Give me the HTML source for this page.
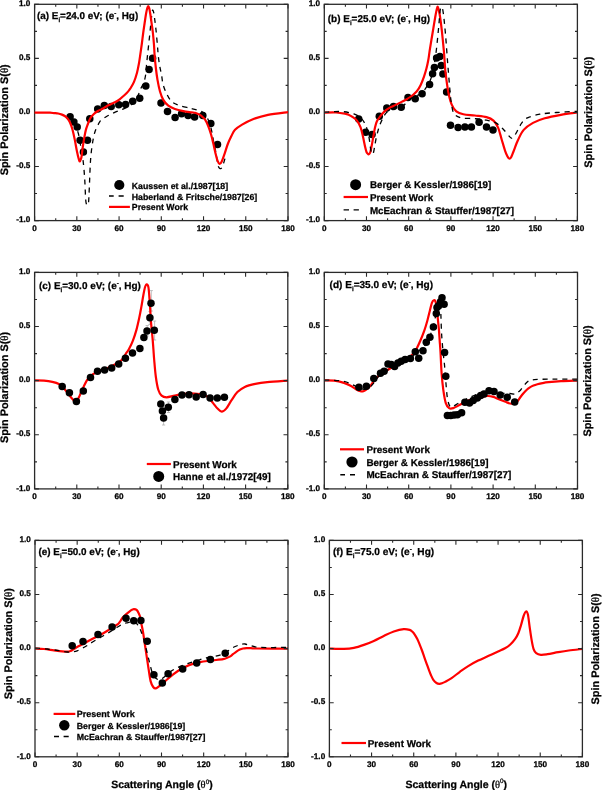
<!DOCTYPE html>
<html><head><meta charset="utf-8"><style>
html,body{margin:0;padding:0;background:#fff;}
body{width:602px;height:790px;overflow:hidden;}
svg{display:block;font-family:"Liberation Sans", sans-serif;will-change:transform;filter:blur(0.4px);}
text{stroke:#000;stroke-width:0.25px;text-rendering:geometricPrecision;}
</style></head><body>
<svg width="602" height="790" viewBox="0 0 602 790">
<rect width="602" height="790" fill="#fff"/>
<rect x="34.60" y="4.30" width="253.40" height="216.30" fill="none" stroke="#2a2a2a" stroke-width="1.30"/>
<path d="M34.60,220.60V216.30 M34.60,4.30V8.60 M55.72,220.60V218.20 M55.72,4.30V6.70 M76.83,220.60V216.30 M76.83,4.30V8.60 M97.95,220.60V218.20 M97.95,4.30V6.70 M119.07,220.60V216.30 M119.07,4.30V8.60 M140.18,220.60V218.20 M140.18,4.30V6.70 M161.30,220.60V216.30 M161.30,4.30V8.60 M182.42,220.60V218.20 M182.42,4.30V6.70 M203.53,220.60V216.30 M203.53,4.30V8.60 M224.65,220.60V218.20 M224.65,4.30V6.70 M245.77,220.60V216.30 M245.77,4.30V8.60 M266.88,220.60V218.20 M266.88,4.30V6.70 M288.00,220.60V216.30 M288.00,4.30V8.60 M34.60,220.60H38.90 M288.00,220.60H283.70 M34.60,193.56H37.00 M288.00,193.56H285.60 M34.60,166.53H38.90 M288.00,166.53H283.70 M34.60,139.49H37.00 M288.00,139.49H285.60 M34.60,112.45H38.90 M288.00,112.45H283.70 M34.60,85.41H37.00 M288.00,85.41H285.60 M34.60,58.38H38.90 M288.00,58.38H283.70 M34.60,31.34H37.00 M288.00,31.34H285.60 M34.60,4.30H38.90 M288.00,4.30H283.70" stroke="#2a2a2a" stroke-width="1.1" fill="none"/>
<text x="34.60" y="231.10" font-size="8.20" text-anchor="middle" font-weight="bold">0</text>
<text x="76.83" y="231.10" font-size="8.20" text-anchor="middle" font-weight="bold">30</text>
<text x="119.07" y="231.10" font-size="8.20" text-anchor="middle" font-weight="bold">60</text>
<text x="161.30" y="231.10" font-size="8.20" text-anchor="middle" font-weight="bold">90</text>
<text x="203.53" y="231.10" font-size="8.20" text-anchor="middle" font-weight="bold">120</text>
<text x="245.77" y="231.10" font-size="8.20" text-anchor="middle" font-weight="bold">150</text>
<text x="288.00" y="231.10" font-size="8.20" text-anchor="middle" font-weight="bold">180</text>
<text x="30.40" y="6.00" font-size="8.20" text-anchor="end" font-weight="bold">1.0</text>
<text x="30.40" y="60.08" font-size="8.20" text-anchor="end" font-weight="bold">0.5</text>
<text x="30.40" y="114.15" font-size="8.20" text-anchor="end" font-weight="bold">0.0</text>
<text x="30.40" y="168.22" font-size="8.20" text-anchor="end" font-weight="bold">-0.5</text>
<text x="30.40" y="222.30" font-size="8.20" text-anchor="end" font-weight="bold">-1.0</text>
<g fill="#000"><circle cx="70.10" cy="116.70" r="3.75"/><circle cx="73.90" cy="122.10" r="3.75"/><circle cx="77.20" cy="127.00" r="3.75"/><circle cx="80.10" cy="140.20" r="3.75"/><circle cx="87.50" cy="140.20" r="3.75"/><circle cx="83.40" cy="152.10" r="3.75"/><circle cx="89.80" cy="118.80" r="3.75"/><circle cx="97.70" cy="108.90" r="3.75"/><circle cx="104.30" cy="105.60" r="3.75"/><circle cx="111.20" cy="106.50" r="3.75"/><circle cx="118.80" cy="104.80" r="3.75"/><circle cx="125.60" cy="104.40" r="3.75"/><circle cx="132.70" cy="101.20" r="3.75"/><circle cx="139.70" cy="98.20" r="3.75"/><circle cx="145.80" cy="86.00" r="3.75"/><circle cx="149.10" cy="69.40" r="3.75"/><circle cx="152.60" cy="58.20" r="3.75"/><circle cx="161.00" cy="103.00" r="3.75"/><circle cx="167.50" cy="111.60" r="3.75"/><circle cx="175.10" cy="117.60" r="3.75"/><circle cx="181.60" cy="113.80" r="3.75"/><circle cx="188.10" cy="115.50" r="3.75"/><circle cx="194.60" cy="117.00" r="3.75"/><circle cx="202.80" cy="115.50" r="3.75"/><circle cx="210.80" cy="123.50" r="3.75"/><circle cx="217.50" cy="144.50" r="3.75"/></g>
<path d="M68.00,114.50 C68.35,114.87 69.12,115.43 70.10,116.70 C71.08,117.97 72.87,120.23 73.90,122.10 C74.93,123.97 75.53,125.92 76.30,127.90 C77.07,129.88 77.80,131.15 78.50,134.00 C79.20,136.85 79.77,140.82 80.50,145.00 C81.23,149.18 82.22,153.73 82.90,159.10 C83.58,164.47 84.15,170.72 84.60,177.20 C85.05,183.68 85.32,193.60 85.60,198.00 C85.88,202.40 86.00,202.43 86.30,203.60 C86.60,204.77 87.03,205.10 87.40,205.00 C87.77,204.90 88.18,205.83 88.50,203.00 C88.82,200.17 89.00,194.48 89.30,188.00 C89.60,181.52 89.98,169.93 90.30,164.10 C90.62,158.27 90.88,156.18 91.20,153.00 C91.52,149.82 91.83,147.50 92.20,145.00 C92.57,142.50 93.00,140.00 93.40,138.00 C93.80,136.00 94.17,134.50 94.60,133.00 C95.03,131.50 95.43,130.33 96.00,129.00 C96.57,127.67 97.33,126.28 98.00,125.00 C98.67,123.72 99.17,122.33 100.00,121.30 C100.83,120.27 101.85,119.65 103.00,118.80 C104.15,117.95 105.63,116.93 106.90,116.20 C108.17,115.47 109.22,115.07 110.60,114.40 C111.98,113.73 113.65,112.88 115.20,112.20 C116.75,111.52 118.42,110.90 119.90,110.30 C121.38,109.70 122.08,109.60 124.10,108.60 C126.12,107.60 129.93,105.90 132.00,104.30 C134.07,102.70 135.30,100.95 136.50,99.00 C137.70,97.05 138.40,94.50 139.20,92.60 C140.00,90.70 140.53,89.28 141.30,87.60 C142.07,85.92 143.08,84.60 143.80,82.50 C144.52,80.40 145.10,78.42 145.60,75.00 C146.10,71.58 146.35,66.50 146.80,62.00 C147.25,57.50 147.80,52.67 148.30,48.00 C148.80,43.33 149.35,38.33 149.80,34.00 C150.25,29.67 150.63,25.50 151.00,22.00 C151.37,18.50 151.70,15.00 152.00,13.00 C152.30,11.00 152.50,10.00 152.80,10.00 C153.10,10.00 153.47,11.33 153.80,13.00 C154.13,14.67 154.43,17.17 154.80,20.00 C155.17,22.83 155.57,25.82 156.00,30.00 C156.43,34.18 157.02,40.77 157.40,45.10 C157.78,49.43 157.92,52.55 158.30,56.00 C158.68,59.45 159.15,62.58 159.70,65.80 C160.25,69.02 161.03,72.18 161.60,75.30 C162.17,78.42 162.27,81.45 163.10,84.50 C163.93,87.55 165.18,90.77 166.60,93.60 C168.02,96.43 169.45,99.50 171.60,101.50 C173.75,103.50 176.53,104.52 179.50,105.60 C182.47,106.68 187.25,107.47 189.40,108.00 C191.55,108.53 191.17,108.48 192.40,108.80 C193.63,109.12 195.48,109.57 196.80,109.90 C198.12,110.23 199.27,110.40 200.30,110.80 C201.33,111.20 202.18,111.73 203.00,112.30 C203.82,112.87 204.32,112.92 205.20,114.20 C206.08,115.48 207.40,117.95 208.30,120.00 C209.20,122.05 209.93,124.17 210.60,126.50 C211.27,128.83 211.82,131.58 212.30,134.00 C212.78,136.42 213.05,138.67 213.50,141.00 C213.95,143.33 214.50,145.50 215.00,148.00 C215.50,150.50 216.08,153.58 216.50,156.00 C216.92,158.42 217.17,160.70 217.50,162.50 C217.83,164.30 218.12,165.80 218.50,166.80 C218.88,167.80 219.33,168.27 219.80,168.50 C220.27,168.73 220.85,168.53 221.30,168.20 C221.75,167.87 222.00,167.72 222.50,166.50 C223.00,165.28 223.85,162.43 224.30,160.90 C224.75,159.37 225.05,157.90 225.20,157.30" stroke="#000" stroke-width="1.30" fill="none" stroke-dasharray="5 4.8" stroke-dashoffset="0.0"/>
<path d="M34.60,112.70 C37.17,112.70 46.77,112.63 50.00,112.70 C53.23,112.77 52.63,112.97 54.00,113.10 C55.37,113.23 56.87,113.25 58.20,113.50 C59.53,113.75 60.90,114.18 62.00,114.60 C63.10,115.02 63.88,115.35 64.80,116.00 C65.72,116.65 66.72,117.58 67.50,118.50 C68.28,119.42 68.92,120.42 69.50,121.50 C70.08,122.58 70.48,123.58 71.00,125.00 C71.52,126.42 71.98,127.60 72.60,130.00 C73.22,132.40 73.93,135.63 74.70,139.40 C75.47,143.17 76.43,149.03 77.20,152.60 C77.97,156.17 78.78,159.48 79.30,160.80 C79.82,162.12 79.93,161.13 80.30,160.50 C80.67,159.87 81.10,159.17 81.50,157.00 C81.90,154.83 82.23,150.73 82.70,147.50 C83.17,144.27 83.78,140.50 84.30,137.60 C84.82,134.70 85.23,132.28 85.80,130.10 C86.37,127.92 86.95,126.48 87.70,124.50 C88.45,122.52 89.32,119.92 90.30,118.20 C91.28,116.48 92.27,115.43 93.60,114.20 C94.93,112.97 96.97,111.62 98.30,110.80 C99.63,109.98 99.93,110.22 101.60,109.30 C103.27,108.38 106.08,106.47 108.30,105.30 C110.52,104.13 113.02,103.30 114.90,102.30 C116.78,101.30 117.93,100.55 119.60,99.30 C121.27,98.05 123.50,96.08 124.90,94.80 C126.30,93.52 127.12,92.62 128.00,91.60 C128.88,90.58 129.20,90.32 130.20,88.70 C131.20,87.08 132.87,84.55 134.00,81.90 C135.13,79.25 136.18,75.83 137.00,72.80 C137.82,69.77 138.33,66.87 138.90,63.70 C139.47,60.53 139.92,57.08 140.40,53.80 C140.88,50.52 141.33,47.47 141.80,44.00 C142.27,40.53 142.75,36.33 143.20,33.00 C143.65,29.67 144.03,27.17 144.50,24.00 C144.97,20.83 145.53,16.67 146.00,14.00 C146.47,11.33 146.93,9.30 147.30,8.00 C147.67,6.70 147.88,6.20 148.20,6.20 C148.52,6.20 148.85,6.70 149.20,8.00 C149.55,9.30 149.88,11.33 150.30,14.00 C150.72,16.67 151.27,20.83 151.70,24.00 C152.13,27.17 152.52,29.50 152.90,33.00 C153.28,36.50 153.72,41.33 154.00,45.00 C154.28,48.67 154.30,51.25 154.60,55.00 C154.90,58.75 155.32,63.35 155.80,67.50 C156.28,71.65 156.80,75.90 157.50,79.90 C158.20,83.90 159.03,88.17 160.00,91.50 C160.97,94.83 161.92,97.53 163.30,99.90 C164.68,102.27 166.37,104.18 168.30,105.70 C170.23,107.22 172.42,108.10 174.90,109.00 C177.38,109.90 180.43,110.55 183.20,111.10 C185.97,111.65 189.53,112.02 191.50,112.30 C193.47,112.58 193.92,112.53 195.00,112.80 C196.08,113.07 197.00,113.45 198.00,113.90 C199.00,114.35 199.87,114.62 201.00,115.50 C202.13,116.38 203.58,117.40 204.80,119.20 C206.02,121.00 207.27,123.78 208.30,126.30 C209.33,128.82 210.18,131.50 211.00,134.30 C211.82,137.10 212.47,140.00 213.20,143.10 C213.93,146.20 214.67,149.93 215.40,152.90 C216.13,155.87 216.88,159.05 217.60,160.90 C218.32,162.75 219.03,163.85 219.70,164.00 C220.37,164.15 220.83,163.35 221.60,161.80 C222.37,160.25 223.27,157.67 224.30,154.70 C225.33,151.73 226.62,147.12 227.80,144.00 C228.98,140.88 230.20,138.37 231.40,136.00 C232.60,133.63 233.22,131.70 235.00,129.80 C236.78,127.90 239.12,126.37 242.10,124.60 C245.08,122.83 248.58,120.83 252.90,119.20 C257.22,117.57 262.15,115.98 268.00,114.80 C273.85,113.62 284.67,112.55 288.00,112.10" stroke="#ff0000" stroke-width="2.20" fill="none" stroke-linejoin="round" stroke-linecap="butt"/>
<text x="37.00" y="18.60" font-size="9.88" font-weight="bold">(a) E<tspan font-size="6.13" dy="2.96">i</tspan><tspan dy="-2.96">=24.0 eV; (e</tspan><tspan font-size="6.13" dy="-3.75">-</tspan><tspan dy="3.75">, Hg)</tspan></text>
<circle cx="119.30" cy="185.00" r="5.10" fill="#000"/>
<text x="131.80" y="188.55" font-size="8.75" text-anchor="start" font-weight="bold">Kaussen et al./1987[18]</text>
<path d="M109.00,196.00H113.70M118.60,196.00H123.70" stroke="#000" stroke-width="1.4"/>
<text x="131.80" y="199.55" font-size="8.75" text-anchor="start" font-weight="bold">Haberland &amp; Fritsche/1987[26]</text>
<path d="M109.00,206.90H129.90" stroke="#ff0000" stroke-width="2.2"/>
<text x="131.80" y="210.35" font-size="8.75" text-anchor="start" font-weight="bold">Present Work</text>
<g fill="#000"><circle cx="358.70" cy="119.10" r="3.75"/><circle cx="365.60" cy="132.30" r="3.75"/><circle cx="372.10" cy="134.50" r="3.75"/><circle cx="379.30" cy="116.20" r="3.75"/><circle cx="386.80" cy="107.90" r="3.75"/><circle cx="393.50" cy="106.40" r="3.75"/><circle cx="401.20" cy="107.30" r="3.75"/><circle cx="408.00" cy="97.50" r="3.75"/><circle cx="415.20" cy="98.80" r="3.75"/><circle cx="422.10" cy="93.70" r="3.75"/><circle cx="429.60" cy="84.60" r="3.75"/><circle cx="432.60" cy="73.80" r="3.75"/><circle cx="434.40" cy="67.50" r="3.75"/><circle cx="436.60" cy="57.90" r="3.75"/><circle cx="439.90" cy="56.60" r="3.75"/><circle cx="441.30" cy="65.50" r="3.75"/><circle cx="442.90" cy="74.00" r="3.75"/><circle cx="446.60" cy="92.00" r="3.75"/><circle cx="450.50" cy="125.20" r="3.75"/><circle cx="458.10" cy="127.60" r="3.75"/><circle cx="464.90" cy="127.10" r="3.75"/><circle cx="471.40" cy="126.90" r="3.75"/><circle cx="479.10" cy="122.20" r="3.75"/><circle cx="486.50" cy="126.90" r="3.75"/><circle cx="493.00" cy="129.90" r="3.75"/></g>
<path d="M324.30,112.60 C326.25,112.58 332.57,112.32 336.00,112.50 C339.43,112.68 342.73,113.28 344.90,113.70 C347.07,114.12 347.75,114.47 349.00,115.00 C350.25,115.53 351.08,115.97 352.40,116.90 C353.72,117.83 355.53,118.85 356.90,120.60 C358.27,122.35 359.60,124.78 360.60,127.40 C361.60,130.02 362.15,133.07 362.90,136.30 C363.65,139.53 364.50,144.18 365.10,146.80 C365.70,149.42 366.05,150.83 366.50,152.00 C366.95,153.17 367.45,153.42 367.80,153.80 C368.15,154.18 368.32,154.33 368.60,154.30 C368.88,154.27 369.18,154.07 369.50,153.60 C369.82,153.13 370.08,153.08 370.50,151.50 C370.92,149.92 371.50,146.73 372.00,144.10 C372.50,141.47 373.00,138.48 373.50,135.70 C374.00,132.92 374.43,129.80 375.00,127.40 C375.57,125.00 376.07,123.08 376.90,121.30 C377.73,119.52 378.73,118.35 380.00,116.70 C381.27,115.05 382.98,112.83 384.50,111.40 C386.02,109.97 387.63,109.00 389.10,108.10 C390.57,107.20 391.22,107.03 393.30,106.00 C395.38,104.97 398.83,103.35 401.60,101.90 C404.37,100.45 407.40,99.03 409.90,97.30 C412.40,95.57 414.80,93.57 416.60,91.50 C418.40,89.43 419.47,87.38 420.70,84.90 C421.93,82.42 423.03,79.37 424.00,76.60 C424.97,73.83 425.78,71.07 426.50,68.30 C427.22,65.53 427.78,62.85 428.30,60.00 C428.82,57.15 429.08,54.53 429.60,51.20 C430.12,47.87 430.78,43.77 431.40,40.00 C432.02,36.23 432.67,32.40 433.30,28.60 C433.93,24.80 434.67,20.22 435.20,17.20 C435.73,14.18 436.10,12.27 436.50,10.50 C436.90,8.73 437.20,6.60 437.60,6.60 C438.00,6.60 438.48,8.73 438.90,10.50 C439.32,12.27 439.65,14.18 440.10,17.20 C440.55,20.22 441.15,24.80 441.60,28.60 C442.05,32.40 442.42,36.20 442.80,40.00 C443.18,43.80 443.58,47.73 443.90,51.40 C444.22,55.07 444.43,58.52 444.70,62.00 C444.97,65.48 444.90,67.30 445.50,72.30 C446.10,77.30 447.28,86.67 448.30,92.00 C449.32,97.33 450.27,101.08 451.60,104.30 C452.93,107.52 454.35,109.63 456.30,111.30 C458.25,112.97 460.20,113.60 463.30,114.30 C466.40,115.00 471.03,115.03 474.90,115.50 C478.77,115.97 483.40,116.25 486.50,117.10 C489.60,117.95 491.57,118.85 493.50,120.60 C495.43,122.35 496.75,124.50 498.10,127.60 C499.45,130.70 500.43,135.33 501.60,139.20 C502.77,143.07 504.12,147.92 505.10,150.80 C506.08,153.68 506.83,155.22 507.50,156.50 C508.17,157.78 508.52,158.33 509.10,158.50 C509.68,158.67 510.30,158.58 511.00,157.50 C511.70,156.42 512.15,154.87 513.30,152.00 C514.45,149.13 516.17,143.98 517.90,140.30 C519.63,136.62 521.18,132.80 523.70,129.90 C526.22,127.00 529.50,124.83 533.00,122.90 C536.50,120.97 540.05,119.65 544.70,118.30 C549.35,116.95 555.45,115.78 560.90,114.80 C566.35,113.82 574.65,112.80 577.40,112.40" stroke="#ff0000" stroke-width="2.20" fill="none" stroke-linejoin="round" stroke-linecap="butt"/>
<path d="M324.30,112.40 C325.75,112.28 329.82,111.82 333.00,111.70 C336.18,111.58 339.92,111.33 343.40,111.70 C346.88,112.07 350.90,112.78 353.90,113.90 C356.90,115.02 359.40,116.40 361.40,118.40 C363.40,120.40 364.67,122.92 365.90,125.90 C367.13,128.88 368.07,132.82 368.80,136.30 C369.53,139.78 369.90,144.18 370.30,146.80 C370.70,149.42 370.87,150.77 371.20,152.00 C371.53,153.23 371.92,154.12 372.30,154.20 C372.68,154.28 373.12,153.75 373.50,152.50 C373.88,151.25 374.15,149.12 374.60,146.70 C375.05,144.28 375.60,140.78 376.20,138.00 C376.80,135.22 377.57,132.25 378.20,130.00 C378.83,127.75 379.20,126.50 380.00,124.50 C380.80,122.50 381.87,120.05 383.00,118.00 C384.13,115.95 384.92,113.75 386.80,112.20 C388.68,110.65 391.57,109.78 394.30,108.70 C397.03,107.62 400.73,107.22 403.20,105.70 C405.67,104.18 406.97,101.22 409.10,99.60 C411.23,97.98 413.72,97.27 416.00,96.00 C418.28,94.73 420.40,94.68 422.80,92.00 C425.20,89.32 428.50,84.45 430.40,79.90 C432.30,75.35 433.20,69.77 434.20,64.70 C435.20,59.63 435.65,55.82 436.40,49.50 C437.15,43.18 438.07,33.37 438.70,26.80 C439.33,20.23 439.70,13.40 440.20,10.10 C440.70,6.80 441.18,6.50 441.70,7.00 C442.22,7.50 442.67,8.53 443.30,13.10 C443.93,17.67 444.75,25.80 445.50,34.40 C446.25,43.00 447.03,55.10 447.80,64.70 C448.57,74.30 449.48,85.45 450.10,92.00 C450.72,98.55 450.85,100.40 451.50,104.00 C452.15,107.60 452.43,111.30 454.00,113.60 C455.57,115.90 457.42,116.95 460.90,117.80 C464.38,118.65 470.63,118.32 474.90,118.70 C479.17,119.08 483.02,119.40 486.50,120.10 C489.98,120.80 493.08,121.47 495.80,122.90 C498.52,124.33 500.47,126.37 502.80,128.70 C505.13,131.03 508.35,135.32 509.80,136.90 C511.25,138.48 510.97,138.10 511.50,138.20 C512.03,138.30 512.42,138.03 513.00,137.50 C513.58,136.97 514.33,136.00 515.00,135.00 C515.67,134.00 516.33,132.70 517.00,131.50 C517.67,130.30 518.33,129.05 519.00,127.80 C519.67,126.55 520.27,125.17 521.00,124.00 C521.73,122.83 522.57,121.72 523.40,120.80 C524.23,119.88 525.00,119.13 526.00,118.50 C527.00,117.87 528.08,117.48 529.40,117.00 C530.72,116.52 532.33,116.03 533.90,115.60 C535.47,115.17 537.32,114.72 538.80,114.40 C540.28,114.08 539.88,114.02 542.80,113.70 C545.72,113.38 550.53,112.90 556.30,112.50 C562.07,112.10 573.88,111.50 577.40,111.30" stroke="#000" stroke-width="1.30" fill="none" stroke-dasharray="5 4.8" stroke-dashoffset="0.0"/>
<rect x="324.30" y="4.30" width="253.10" height="216.30" fill="none" stroke="#2a2a2a" stroke-width="1.30"/>
<path d="M324.30,220.60V216.30 M324.30,4.30V8.60 M345.39,220.60V218.20 M345.39,4.30V6.70 M366.48,220.60V216.30 M366.48,4.30V8.60 M387.57,220.60V218.20 M387.57,4.30V6.70 M408.67,220.60V216.30 M408.67,4.30V8.60 M429.76,220.60V218.20 M429.76,4.30V6.70 M450.85,220.60V216.30 M450.85,4.30V8.60 M471.94,220.60V218.20 M471.94,4.30V6.70 M493.03,220.60V216.30 M493.03,4.30V8.60 M514.12,220.60V218.20 M514.12,4.30V6.70 M535.22,220.60V216.30 M535.22,4.30V8.60 M556.31,220.60V218.20 M556.31,4.30V6.70 M577.40,220.60V216.30 M577.40,4.30V8.60 M324.30,220.60H328.60 M577.40,220.60H573.10 M324.30,193.56H326.70 M577.40,193.56H575.00 M324.30,166.53H328.60 M577.40,166.53H573.10 M324.30,139.49H326.70 M577.40,139.49H575.00 M324.30,112.45H328.60 M577.40,112.45H573.10 M324.30,85.41H326.70 M577.40,85.41H575.00 M324.30,58.38H328.60 M577.40,58.38H573.10 M324.30,31.34H326.70 M577.40,31.34H575.00 M324.30,4.30H328.60 M577.40,4.30H573.10" stroke="#2a2a2a" stroke-width="1.1" fill="none"/>
<text x="324.30" y="231.10" font-size="8.20" text-anchor="middle" font-weight="bold">0</text>
<text x="366.48" y="231.10" font-size="8.20" text-anchor="middle" font-weight="bold">30</text>
<text x="408.67" y="231.10" font-size="8.20" text-anchor="middle" font-weight="bold">60</text>
<text x="450.85" y="231.10" font-size="8.20" text-anchor="middle" font-weight="bold">90</text>
<text x="493.03" y="231.10" font-size="8.20" text-anchor="middle" font-weight="bold">120</text>
<text x="535.22" y="231.10" font-size="8.20" text-anchor="middle" font-weight="bold">150</text>
<text x="577.40" y="231.10" font-size="8.20" text-anchor="middle" font-weight="bold">180</text>
<text x="320.10" y="6.00" font-size="8.20" text-anchor="end" font-weight="bold">1.0</text>
<text x="320.10" y="60.08" font-size="8.20" text-anchor="end" font-weight="bold">0.5</text>
<text x="320.10" y="114.15" font-size="8.20" text-anchor="end" font-weight="bold">0.0</text>
<text x="320.10" y="168.22" font-size="8.20" text-anchor="end" font-weight="bold">-0.5</text>
<text x="320.10" y="222.30" font-size="8.20" text-anchor="end" font-weight="bold">-1.0</text>
<text x="327.80" y="21.70" font-size="9.95" font-weight="bold">(b) E<tspan font-size="6.17" dy="2.98">i</tspan><tspan dy="-2.98">=25.0 eV; (e</tspan><tspan font-size="6.17" dy="-3.78">-</tspan><tspan dy="3.78">, Hg)</tspan></text>
<circle cx="355.60" cy="184.70" r="5.50" fill="#000"/>
<text x="369.90" y="188.43" font-size="9.80" text-anchor="start" font-weight="bold">Berger &amp; Kessler/1986[19]</text>
<path d="M343.60,197.00H368.00" stroke="#ff0000" stroke-width="2.2"/>
<text x="369.90" y="200.75" font-size="9.85" text-anchor="start" font-weight="bold">Present Work</text>
<path d="M343.60,209.90H349.00M353.60,209.90H358.90" stroke="#000" stroke-width="1.4"/>
<text x="369.90" y="214.24" font-size="9.83" text-anchor="start" font-weight="bold">McEachran &amp; Stauffer/1987[27]</text>
<path d="M151.3,290.6V311.0M149.7,290.6H152.9M149.7,311.0H152.9 M150.0,311.5V324.5M148.4,311.5H151.6M148.4,324.5H151.6 M154.6,321.0V340.0M153.0,321.0H156.2M153.0,340.0H156.2 M147.2,325.5V336.0M145.6,325.5H148.8M145.6,336.0H148.8 M163.6,412.0V425.0M162.0,412.0H165.2M162.0,425.0H165.2 M168.5,402.0V412.5M166.9,402.0H170.1M166.9,412.5H170.1" stroke="#b0b0b0" stroke-width="0.8" fill="none"/>
<path d="M34.60,380.40 C36.17,380.45 41.05,380.45 44.00,380.70 C46.95,380.95 49.82,381.35 52.30,381.90 C54.78,382.45 56.97,382.95 58.90,384.00 C60.83,385.05 62.23,386.40 63.90,388.20 C65.57,390.00 67.23,392.73 68.90,394.80 C70.57,396.87 72.65,399.43 73.90,400.60 C75.15,401.77 75.57,402.35 76.40,401.80 C77.23,401.25 77.93,399.30 78.90,397.30 C79.87,395.30 80.82,392.70 82.20,389.80 C83.58,386.90 85.55,382.38 87.20,379.90 C88.85,377.42 89.90,376.43 92.10,374.90 C94.30,373.37 97.62,371.95 100.40,370.70 C103.18,369.45 106.02,368.63 108.80,367.40 C111.58,366.17 114.90,364.57 117.10,363.30 C119.30,362.03 120.48,361.48 122.00,359.80 C123.52,358.12 125.03,354.98 126.20,353.20 C127.37,351.42 127.87,351.25 129.00,349.10 C130.13,346.95 131.75,343.55 133.00,340.30 C134.25,337.05 135.47,333.30 136.50,329.60 C137.53,325.90 138.38,321.93 139.20,318.10 C140.02,314.27 140.73,310.28 141.40,306.60 C142.07,302.92 142.60,299.22 143.20,296.00 C143.80,292.78 144.42,289.25 145.00,287.30 C145.58,285.35 146.13,284.33 146.70,284.30 C147.27,284.27 147.95,284.87 148.40,287.10 C148.85,289.33 149.08,293.72 149.40,297.70 C149.72,301.68 150.00,306.57 150.30,311.00 C150.60,315.43 150.83,319.87 151.20,324.30 C151.57,328.73 152.13,333.47 152.50,337.60 C152.87,341.73 153.12,345.37 153.40,349.10 C153.68,352.83 153.80,355.43 154.20,360.00 C154.60,364.57 155.12,371.53 155.80,376.50 C156.48,381.47 157.33,386.62 158.30,389.80 C159.27,392.98 160.22,394.35 161.60,395.60 C162.98,396.85 164.38,397.30 166.60,397.30 C168.82,397.30 171.58,396.23 174.90,395.60 C178.22,394.97 182.35,393.77 186.50,393.50 C190.65,393.23 196.72,393.67 199.80,394.00 C202.88,394.33 203.62,394.95 205.00,395.50 C206.38,396.05 206.75,396.03 208.10,397.30 C209.45,398.57 211.53,401.23 213.10,403.10 C214.67,404.97 216.07,407.07 217.50,408.50 C218.93,409.93 220.25,411.68 221.70,411.70 C223.15,411.72 224.58,410.48 226.20,408.60 C227.82,406.72 229.53,403.15 231.40,400.40 C233.27,397.65 235.17,394.35 237.40,392.10 C239.63,389.85 241.82,388.27 244.80,386.90 C247.78,385.53 251.55,384.70 255.30,383.90 C259.05,383.10 261.88,382.65 267.30,382.10 C272.72,381.55 284.38,380.85 287.80,380.60" stroke="#ff0000" stroke-width="2.20" fill="none" stroke-linejoin="round" stroke-linecap="butt"/>
<g fill="#000"><circle cx="62.20" cy="386.50" r="3.75"/><circle cx="69.40" cy="392.80" r="3.75"/><circle cx="76.40" cy="401.50" r="3.75"/><circle cx="83.30" cy="391.00" r="3.75"/><circle cx="90.50" cy="377.40" r="3.75"/><circle cx="97.50" cy="371.20" r="3.75"/><circle cx="104.60" cy="369.90" r="3.75"/><circle cx="111.70" cy="367.90" r="3.75"/><circle cx="118.70" cy="364.10" r="3.75"/><circle cx="125.40" cy="358.30" r="3.75"/><circle cx="132.50" cy="353.00" r="3.75"/><circle cx="139.90" cy="348.40" r="3.75"/><circle cx="143.90" cy="337.50" r="3.75"/><circle cx="147.00" cy="331.10" r="3.75"/><circle cx="154.30" cy="330.20" r="3.75"/><circle cx="149.90" cy="317.80" r="3.75"/><circle cx="151.00" cy="303.20" r="3.75"/><circle cx="160.80" cy="404.00" r="3.75"/><circle cx="168.30" cy="407.30" r="3.75"/><circle cx="162.40" cy="411.10" r="3.75"/><circle cx="163.60" cy="418.10" r="3.75"/><circle cx="174.90" cy="399.50" r="3.75"/><circle cx="182.00" cy="395.10" r="3.75"/><circle cx="189.00" cy="394.80" r="3.75"/><circle cx="196.20" cy="397.00" r="3.75"/><circle cx="203.10" cy="394.50" r="3.75"/><circle cx="210.10" cy="398.10" r="3.75"/><circle cx="217.30" cy="398.10" r="3.75"/><circle cx="224.40" cy="397.30" r="3.75"/></g>
<rect x="34.60" y="272.40" width="253.20" height="216.50" fill="none" stroke="#2a2a2a" stroke-width="1.30"/>
<path d="M34.60,488.90V484.60 M34.60,272.40V276.70 M55.70,488.90V486.50 M55.70,272.40V274.80 M76.80,488.90V484.60 M76.80,272.40V276.70 M97.90,488.90V486.50 M97.90,272.40V274.80 M119.00,488.90V484.60 M119.00,272.40V276.70 M140.10,488.90V486.50 M140.10,272.40V274.80 M161.20,488.90V484.60 M161.20,272.40V276.70 M182.30,488.90V486.50 M182.30,272.40V274.80 M203.40,488.90V484.60 M203.40,272.40V276.70 M224.50,488.90V486.50 M224.50,272.40V274.80 M245.60,488.90V484.60 M245.60,272.40V276.70 M266.70,488.90V486.50 M266.70,272.40V274.80 M287.80,488.90V484.60 M287.80,272.40V276.70 M34.60,488.90H38.90 M287.80,488.90H283.50 M34.60,461.84H37.00 M287.80,461.84H285.40 M34.60,434.77H38.90 M287.80,434.77H283.50 M34.60,407.71H37.00 M287.80,407.71H285.40 M34.60,380.65H38.90 M287.80,380.65H283.50 M34.60,353.59H37.00 M287.80,353.59H285.40 M34.60,326.52H38.90 M287.80,326.52H283.50 M34.60,299.46H37.00 M287.80,299.46H285.40 M34.60,272.40H38.90 M287.80,272.40H283.50" stroke="#2a2a2a" stroke-width="1.1" fill="none"/>
<text x="34.60" y="499.40" font-size="8.20" text-anchor="middle" font-weight="bold">0</text>
<text x="76.80" y="499.40" font-size="8.20" text-anchor="middle" font-weight="bold">30</text>
<text x="119.00" y="499.40" font-size="8.20" text-anchor="middle" font-weight="bold">60</text>
<text x="161.20" y="499.40" font-size="8.20" text-anchor="middle" font-weight="bold">90</text>
<text x="203.40" y="499.40" font-size="8.20" text-anchor="middle" font-weight="bold">120</text>
<text x="245.60" y="499.40" font-size="8.20" text-anchor="middle" font-weight="bold">150</text>
<text x="287.80" y="499.40" font-size="8.20" text-anchor="middle" font-weight="bold">180</text>
<text x="30.40" y="274.10" font-size="8.20" text-anchor="end" font-weight="bold">1.0</text>
<text x="30.40" y="328.22" font-size="8.20" text-anchor="end" font-weight="bold">0.5</text>
<text x="30.40" y="382.35" font-size="8.20" text-anchor="end" font-weight="bold">0.0</text>
<text x="30.40" y="436.47" font-size="8.20" text-anchor="end" font-weight="bold">-0.5</text>
<text x="30.40" y="490.60" font-size="8.20" text-anchor="end" font-weight="bold">-1.0</text>
<text x="39.00" y="288.60" font-size="9.95" font-weight="bold">(c) E<tspan font-size="6.17" dy="2.98">i</tspan><tspan dy="-2.98">=30.0 eV; (e</tspan><tspan font-size="6.17" dy="-3.78">-</tspan><tspan dy="3.78">, Hg)</tspan></text>
<path d="M146.80,464.00H170.90" stroke="#ff0000" stroke-width="2.2"/>
<text x="173.00" y="467.58" font-size="9.95" text-anchor="start" font-weight="bold">Present Work</text>
<circle cx="158.70" cy="476.40" r="5.50" fill="#000"/>
<text x="173.00" y="479.96" font-size="9.90" text-anchor="start" font-weight="bold">Hanne et al./1972[49]</text>
<path d="M324.30,380.40 C325.92,380.45 330.73,380.28 334.00,380.70 C337.27,381.12 341.13,382.07 343.90,382.90 C346.67,383.73 348.52,384.60 350.60,385.70 C352.68,386.80 354.75,388.57 356.40,389.50 C358.05,390.43 359.40,391.00 360.50,391.30 C361.60,391.60 362.17,391.48 363.00,391.30 C363.83,391.12 364.25,391.13 365.50,390.20 C366.75,389.27 368.83,387.57 370.50,385.70 C372.17,383.83 373.57,381.08 375.50,379.00 C377.43,376.92 379.62,375.00 382.10,373.20 C384.58,371.40 387.62,369.85 390.40,368.20 C393.18,366.55 396.02,364.82 398.80,363.30 C401.58,361.78 404.62,360.77 407.10,359.10 C409.58,357.43 412.18,354.90 413.70,353.30 C415.22,351.70 415.10,351.58 416.20,349.50 C417.30,347.42 418.95,343.93 420.30,340.80 C421.65,337.67 423.12,334.08 424.30,330.70 C425.48,327.32 426.47,323.88 427.40,320.50 C428.33,317.12 429.15,313.35 429.90,310.40 C430.65,307.45 431.23,304.48 431.90,302.80 C432.57,301.12 433.30,300.52 433.90,300.30 C434.50,300.08 434.98,299.82 435.50,301.50 C436.02,303.18 436.58,307.23 437.00,310.40 C437.42,313.57 437.67,317.12 438.00,320.50 C438.33,323.88 438.72,327.32 439.00,330.70 C439.28,334.08 439.45,337.25 439.70,340.80 C439.95,344.35 440.18,346.60 440.50,352.00 C440.82,357.40 441.13,366.90 441.60,373.20 C442.07,379.50 442.60,384.82 443.30,389.80 C444.00,394.78 444.83,400.05 445.80,403.10 C446.77,406.15 447.85,407.27 449.10,408.10 C450.35,408.93 451.50,408.65 453.30,408.10 C455.10,407.55 457.42,406.05 459.90,404.80 C462.38,403.55 465.15,401.80 468.20,400.60 C471.25,399.40 475.65,398.30 478.20,397.60 C480.75,396.90 481.85,396.67 483.50,396.40 C485.15,396.13 486.60,395.97 488.10,396.00 C489.60,396.03 491.12,396.23 492.50,396.60 C493.88,396.97 494.35,397.38 496.40,398.20 C498.45,399.02 502.53,400.62 504.80,401.50 C507.07,402.38 508.37,403.12 510.00,403.50 C511.63,403.88 513.35,404.17 514.60,403.80 C515.85,403.43 516.52,402.43 517.50,401.30 C518.48,400.17 519.47,398.38 520.50,397.00 C521.53,395.62 522.65,394.20 523.70,393.00 C524.75,391.80 525.77,390.73 526.80,389.80 C527.83,388.87 528.78,388.10 529.90,387.40 C531.02,386.70 532.25,386.12 533.50,385.60 C534.75,385.08 535.90,384.72 537.40,384.30 C538.90,383.88 540.63,383.45 542.50,383.10 C544.37,382.75 545.52,382.52 548.60,382.20 C551.68,381.88 556.18,381.47 561.00,381.20 C565.82,380.93 574.75,380.70 577.50,380.60" stroke="#ff0000" stroke-width="2.20" fill="none" stroke-linejoin="round" stroke-linecap="butt"/>
<g fill="#000"><circle cx="358.90" cy="387.30" r="3.75"/><circle cx="366.40" cy="386.20" r="3.75"/><circle cx="373.80" cy="378.50" r="3.75"/><circle cx="380.50" cy="373.20" r="3.75"/><circle cx="384.10" cy="371.20" r="3.75"/><circle cx="388.00" cy="364.10" r="3.75"/><circle cx="391.30" cy="364.60" r="3.75"/><circle cx="394.60" cy="366.60" r="3.75"/><circle cx="397.90" cy="362.90" r="3.75"/><circle cx="401.20" cy="361.30" r="3.75"/><circle cx="405.10" cy="359.60" r="3.75"/><circle cx="410.40" cy="358.60" r="3.75"/><circle cx="415.30" cy="351.70" r="3.75"/><circle cx="418.70" cy="358.30" r="3.75"/><circle cx="423.00" cy="350.80" r="3.75"/><circle cx="426.30" cy="342.30" r="3.75"/><circle cx="429.90" cy="337.20" r="3.75"/><circle cx="433.40" cy="327.10" r="3.75"/><circle cx="436.30" cy="313.40" r="3.75"/><circle cx="437.00" cy="307.40" r="3.75"/><circle cx="438.50" cy="305.80" r="3.75"/><circle cx="440.50" cy="301.80" r="3.75"/><circle cx="442.00" cy="297.70" r="3.75"/><circle cx="444.10" cy="304.30" r="3.75"/><circle cx="444.60" cy="352.40" r="3.75"/><circle cx="445.80" cy="376.20" r="3.75"/><circle cx="447.40" cy="415.60" r="3.75"/><circle cx="450.80" cy="415.60" r="3.75"/><circle cx="454.10" cy="415.10" r="3.75"/><circle cx="457.40" cy="414.80" r="3.75"/><circle cx="461.60" cy="412.80" r="3.75"/><circle cx="464.90" cy="402.30" r="3.75"/><circle cx="469.50" cy="403.10" r="3.75"/><circle cx="473.20" cy="400.60" r="3.75"/><circle cx="477.30" cy="398.10" r="3.75"/><circle cx="480.70" cy="395.60" r="3.75"/><circle cx="484.00" cy="394.00" r="3.75"/><circle cx="489.00" cy="390.70" r="3.75"/><circle cx="494.00" cy="391.50" r="3.75"/><circle cx="500.20" cy="395.00" r="3.75"/><circle cx="507.20" cy="397.30" r="3.75"/><circle cx="514.70" cy="402.10" r="3.75"/></g>
<path d="M324.30,380.10 C325.92,380.13 330.73,380.10 334.00,380.30 C337.27,380.50 341.57,380.92 343.90,381.30 C346.23,381.68 346.65,382.08 348.00,382.60 C349.35,383.12 350.60,383.73 352.00,384.40 C353.40,385.07 354.98,385.93 356.40,386.60 C357.82,387.27 359.23,387.95 360.50,388.40 C361.77,388.85 362.92,389.20 364.00,389.30 C365.08,389.40 366.00,389.38 367.00,389.00 C368.00,388.62 369.10,387.73 370.00,387.00 C370.90,386.27 371.48,385.68 372.40,384.60 C373.32,383.52 374.48,381.85 375.50,380.50 C376.52,379.15 377.40,377.67 378.50,376.50 C379.60,375.33 380.12,374.83 382.10,373.50 C384.08,372.17 387.62,370.08 390.40,368.50 C393.18,366.92 396.02,365.42 398.80,364.00 C401.58,362.58 404.62,361.42 407.10,360.00 C409.58,358.58 411.77,357.00 413.70,355.50 C415.63,354.00 417.10,352.17 418.70,351.00 C420.30,349.83 422.03,349.95 423.30,348.50 C424.57,347.05 425.20,344.38 426.30,342.30 C427.40,340.22 428.72,338.72 429.90,336.00 C431.08,333.28 432.38,329.67 433.40,326.00 C434.42,322.33 435.23,317.33 436.00,314.00 C436.77,310.67 437.40,308.00 438.00,306.00 C438.60,304.00 439.18,302.17 439.60,302.00 C440.02,301.83 440.28,302.83 440.50,305.00 C440.72,307.17 440.77,311.33 440.90,315.00 C441.03,318.67 441.12,322.87 441.30,327.00 C441.48,331.13 441.62,334.80 442.00,339.80 C442.38,344.80 443.17,352.63 443.60,357.00 C444.03,361.37 444.23,361.92 444.60,366.00 C444.97,370.08 445.33,376.15 445.80,381.50 C446.27,386.85 446.72,393.95 447.40,398.10 C448.08,402.25 448.97,405.00 449.90,406.40 C450.83,407.80 451.33,407.18 453.00,406.50 C454.67,405.82 457.08,403.83 459.90,402.30 C462.72,400.77 466.58,398.82 469.90,397.30 C473.22,395.78 476.48,394.30 479.80,393.20 C483.12,392.10 486.47,390.70 489.80,390.70 C493.13,390.70 496.48,392.73 499.80,393.20 C503.12,393.67 507.50,393.37 509.70,393.50 C511.90,393.63 512.03,393.90 513.00,394.00 C513.97,394.10 514.75,394.30 515.50,394.10 C516.25,393.90 516.65,393.48 517.50,392.80 C518.35,392.12 519.78,390.88 520.60,390.00 C521.42,389.12 521.58,388.55 522.40,387.50 C523.22,386.45 524.57,384.72 525.50,383.70 C526.43,382.68 527.08,381.98 528.00,381.40 C528.92,380.82 529.95,380.50 531.00,380.20 C532.05,379.90 532.82,379.75 534.30,379.60 C535.78,379.45 536.75,379.37 539.90,379.30 C543.05,379.23 546.93,379.23 553.20,379.20 C559.47,379.17 573.45,379.12 577.50,379.10" stroke="#000" stroke-width="1.30" fill="none" stroke-dasharray="5 4.8" stroke-dashoffset="0.0"/>
<rect x="324.30" y="272.40" width="253.20" height="216.50" fill="none" stroke="#2a2a2a" stroke-width="1.30"/>
<path d="M324.30,488.90V484.60 M324.30,272.40V276.70 M345.40,488.90V486.50 M345.40,272.40V274.80 M366.50,488.90V484.60 M366.50,272.40V276.70 M387.60,488.90V486.50 M387.60,272.40V274.80 M408.70,488.90V484.60 M408.70,272.40V276.70 M429.80,488.90V486.50 M429.80,272.40V274.80 M450.90,488.90V484.60 M450.90,272.40V276.70 M472.00,488.90V486.50 M472.00,272.40V274.80 M493.10,488.90V484.60 M493.10,272.40V276.70 M514.20,488.90V486.50 M514.20,272.40V274.80 M535.30,488.90V484.60 M535.30,272.40V276.70 M556.40,488.90V486.50 M556.40,272.40V274.80 M577.50,488.90V484.60 M577.50,272.40V276.70 M324.30,488.90H328.60 M577.50,488.90H573.20 M324.30,461.84H326.70 M577.50,461.84H575.10 M324.30,434.77H328.60 M577.50,434.77H573.20 M324.30,407.71H326.70 M577.50,407.71H575.10 M324.30,380.65H328.60 M577.50,380.65H573.20 M324.30,353.59H326.70 M577.50,353.59H575.10 M324.30,326.52H328.60 M577.50,326.52H573.20 M324.30,299.46H326.70 M577.50,299.46H575.10 M324.30,272.40H328.60 M577.50,272.40H573.20" stroke="#2a2a2a" stroke-width="1.1" fill="none"/>
<text x="324.30" y="499.40" font-size="8.20" text-anchor="middle" font-weight="bold">0</text>
<text x="366.50" y="499.40" font-size="8.20" text-anchor="middle" font-weight="bold">30</text>
<text x="408.70" y="499.40" font-size="8.20" text-anchor="middle" font-weight="bold">60</text>
<text x="450.90" y="499.40" font-size="8.20" text-anchor="middle" font-weight="bold">90</text>
<text x="493.10" y="499.40" font-size="8.20" text-anchor="middle" font-weight="bold">120</text>
<text x="535.30" y="499.40" font-size="8.20" text-anchor="middle" font-weight="bold">150</text>
<text x="577.50" y="499.40" font-size="8.20" text-anchor="middle" font-weight="bold">180</text>
<text x="320.10" y="274.10" font-size="8.20" text-anchor="end" font-weight="bold">1.0</text>
<text x="320.10" y="328.22" font-size="8.20" text-anchor="end" font-weight="bold">0.5</text>
<text x="320.10" y="382.35" font-size="8.20" text-anchor="end" font-weight="bold">0.0</text>
<text x="320.10" y="436.47" font-size="8.20" text-anchor="end" font-weight="bold">-0.5</text>
<text x="320.10" y="490.60" font-size="8.20" text-anchor="end" font-weight="bold">-1.0</text>
<text x="329.60" y="287.70" font-size="10.05" font-weight="bold">(d) E<tspan font-size="6.23" dy="3.02">i</tspan><tspan dy="-3.02">=35.0 eV; (e</tspan><tspan font-size="6.23" dy="-3.82">-</tspan><tspan dy="3.82">, Hg)</tspan></text>
<path d="M340.00,449.30H364.00" stroke="#ff0000" stroke-width="2.2"/>
<text x="366.40" y="452.86" font-size="9.90" text-anchor="start" font-weight="bold">Present Work</text>
<circle cx="352.00" cy="462.00" r="5.60" fill="#000"/>
<text x="366.40" y="465.55" font-size="9.85" text-anchor="start" font-weight="bold">Berger &amp; Kessler/1986[19]</text>
<path d="M340.30,474.80H345.00M350.00,474.80H355.00" stroke="#000" stroke-width="1.4"/>
<text x="366.40" y="478.36" font-size="9.88" text-anchor="start" font-weight="bold">McEachran &amp; Stauffer/1987[27]</text>
<path d="M35.00,648.50 C36.50,648.58 40.85,648.70 44.00,649.00 C47.15,649.30 50.87,649.92 53.90,650.30 C56.93,650.68 59.93,651.08 62.20,651.30 C64.47,651.52 66.12,651.65 67.50,651.60 C68.88,651.55 69.58,651.33 70.50,651.00 C71.42,650.67 72.10,650.15 73.00,649.60 C73.90,649.05 74.73,648.38 75.90,647.70 C77.07,647.02 78.68,646.20 80.00,645.50 C81.32,644.80 81.78,644.58 83.80,643.50 C85.82,642.42 89.33,640.43 92.10,639.00 C94.87,637.57 97.62,636.42 100.40,634.90 C103.18,633.38 106.02,631.60 108.80,629.90 C111.58,628.20 115.23,626.08 117.10,624.70 C118.97,623.32 119.13,622.72 120.00,621.60 C120.87,620.48 121.30,619.20 122.30,618.00 C123.30,616.80 124.77,615.52 126.00,614.40 C127.23,613.28 128.70,612.07 129.70,611.30 C130.70,610.53 131.28,610.17 132.00,609.80 C132.72,609.43 133.23,609.08 134.00,609.10 C134.77,609.12 135.82,609.20 136.60,609.90 C137.38,610.60 138.08,612.02 138.70,613.30 C139.32,614.58 139.85,615.83 140.30,617.60 C140.75,619.37 140.95,621.52 141.40,623.90 C141.85,626.28 142.47,628.80 143.00,631.90 C143.53,635.00 144.00,638.52 144.60,642.50 C145.20,646.48 145.93,651.37 146.60,655.80 C147.27,660.23 147.93,664.88 148.60,669.10 C149.27,673.32 149.83,678.12 150.60,681.10 C151.37,684.08 152.32,685.78 153.20,687.00 C154.08,688.22 154.78,688.62 155.90,688.40 C157.02,688.18 158.35,686.92 159.90,685.70 C161.45,684.48 162.98,682.98 165.20,681.10 C167.42,679.22 170.77,676.28 173.20,674.40 C175.63,672.52 177.15,671.35 179.80,669.80 C182.45,668.25 185.73,666.37 189.10,665.10 C192.47,663.83 196.53,662.93 200.00,662.20 C203.47,661.47 206.05,661.22 209.90,660.70 C213.75,660.18 220.33,659.55 223.10,659.10 C225.87,658.65 225.38,658.42 226.50,658.00 C227.62,657.58 228.72,657.23 229.80,656.60 C230.88,655.97 231.90,655.03 233.00,654.20 C234.10,653.37 235.27,652.37 236.40,651.60 C237.53,650.83 238.68,650.12 239.80,649.60 C240.92,649.08 241.98,648.75 243.10,648.50 C244.22,648.25 245.40,648.17 246.50,648.10 C247.60,648.03 248.05,648.03 249.70,648.10 C251.35,648.17 250.02,648.40 256.40,648.50 C262.78,648.60 282.73,648.67 288.00,648.70" stroke="#ff0000" stroke-width="2.20" fill="none" stroke-linejoin="round" stroke-linecap="butt"/>
<g fill="#000"><circle cx="72.20" cy="645.70" r="3.75"/><circle cx="83.00" cy="641.50" r="3.75"/><circle cx="98.00" cy="634.40" r="3.75"/><circle cx="112.10" cy="626.90" r="3.75"/><circle cx="126.00" cy="618.30" r="3.75"/><circle cx="133.70" cy="620.70" r="3.75"/><circle cx="140.90" cy="620.50" r="3.75"/><circle cx="147.20" cy="641.20" r="3.75"/><circle cx="153.90" cy="674.70" r="3.75"/><circle cx="162.30" cy="683.10" r="3.75"/><circle cx="168.10" cy="673.80" r="3.75"/><circle cx="182.70" cy="669.10" r="3.75"/><circle cx="196.70" cy="663.00" r="3.75"/><circle cx="210.40" cy="659.50" r="3.75"/><circle cx="225.20" cy="653.20" r="3.75"/></g>
<path d="M35.00,648.20 C37.05,648.33 43.32,648.58 47.30,649.00 C51.28,649.42 55.58,650.20 58.90,650.70 C62.22,651.20 65.02,651.82 67.20,652.00 C69.38,652.18 70.33,652.00 72.00,651.80 C73.67,651.60 74.95,651.68 77.20,650.80 C79.45,649.92 82.73,648.10 85.50,646.50 C88.27,644.90 90.75,643.03 93.80,641.20 C96.85,639.37 100.48,637.43 103.80,635.50 C107.12,633.57 110.67,631.47 113.70,629.60 C116.73,627.73 119.62,625.47 122.00,624.30 C124.38,623.13 125.90,623.10 128.00,622.60 C130.10,622.10 132.83,620.63 134.60,621.30 C136.37,621.97 137.48,624.83 138.60,626.60 C139.72,628.37 140.42,629.68 141.30,631.90 C142.18,634.12 143.02,636.80 143.90,639.90 C144.78,643.00 145.72,646.97 146.60,650.50 C147.48,654.03 148.32,657.55 149.20,661.10 C150.08,664.65 151.12,669.25 151.90,671.80 C152.68,674.35 152.80,675.08 153.90,676.40 C155.00,677.72 156.98,679.43 158.50,679.70 C160.02,679.97 161.08,679.28 163.00,678.00 C164.92,676.72 167.65,673.70 170.00,672.00 C172.35,670.30 173.92,669.28 177.10,667.80 C180.28,666.32 185.33,664.43 189.10,663.10 C192.87,661.77 197.05,660.62 199.70,659.80 C202.35,658.98 201.63,658.97 205.00,658.20 C208.37,657.43 216.40,656.17 219.90,655.20 C223.40,654.23 224.08,653.52 226.00,652.40 C227.92,651.28 229.65,649.57 231.40,648.50 C233.15,647.43 234.90,646.68 236.50,646.00 C238.10,645.32 239.58,644.73 241.00,644.40 C242.42,644.07 243.53,643.83 245.00,644.00 C246.47,644.17 247.33,644.83 249.80,645.40 C252.27,645.97 253.43,647.07 259.80,647.40 C266.17,647.73 283.30,647.40 288.00,647.40" stroke="#000" stroke-width="1.30" fill="none" stroke-dasharray="5 4.8" stroke-dashoffset="0.0"/>
<rect x="35.00" y="540.40" width="253.00" height="216.40" fill="none" stroke="#2a2a2a" stroke-width="1.30"/>
<path d="M35.00,756.80V752.50 M35.00,540.40V544.70 M56.08,756.80V754.40 M56.08,540.40V542.80 M77.17,756.80V752.50 M77.17,540.40V544.70 M98.25,756.80V754.40 M98.25,540.40V542.80 M119.33,756.80V752.50 M119.33,540.40V544.70 M140.42,756.80V754.40 M140.42,540.40V542.80 M161.50,756.80V752.50 M161.50,540.40V544.70 M182.58,756.80V754.40 M182.58,540.40V542.80 M203.67,756.80V752.50 M203.67,540.40V544.70 M224.75,756.80V754.40 M224.75,540.40V542.80 M245.83,756.80V752.50 M245.83,540.40V544.70 M266.92,756.80V754.40 M266.92,540.40V542.80 M288.00,756.80V752.50 M288.00,540.40V544.70 M35.00,756.80H39.30 M288.00,756.80H283.70 M35.00,729.75H37.40 M288.00,729.75H285.60 M35.00,702.70H39.30 M288.00,702.70H283.70 M35.00,675.65H37.40 M288.00,675.65H285.60 M35.00,648.60H39.30 M288.00,648.60H283.70 M35.00,621.55H37.40 M288.00,621.55H285.60 M35.00,594.50H39.30 M288.00,594.50H283.70 M35.00,567.45H37.40 M288.00,567.45H285.60 M35.00,540.40H39.30 M288.00,540.40H283.70" stroke="#2a2a2a" stroke-width="1.1" fill="none"/>
<text x="35.00" y="767.30" font-size="8.20" text-anchor="middle" font-weight="bold">0</text>
<text x="77.17" y="767.30" font-size="8.20" text-anchor="middle" font-weight="bold">30</text>
<text x="119.33" y="767.30" font-size="8.20" text-anchor="middle" font-weight="bold">60</text>
<text x="161.50" y="767.30" font-size="8.20" text-anchor="middle" font-weight="bold">90</text>
<text x="203.67" y="767.30" font-size="8.20" text-anchor="middle" font-weight="bold">120</text>
<text x="245.83" y="767.30" font-size="8.20" text-anchor="middle" font-weight="bold">150</text>
<text x="288.00" y="767.30" font-size="8.20" text-anchor="middle" font-weight="bold">180</text>
<text x="30.80" y="542.10" font-size="8.20" text-anchor="end" font-weight="bold">1.0</text>
<text x="30.80" y="596.20" font-size="8.20" text-anchor="end" font-weight="bold">0.5</text>
<text x="30.80" y="650.30" font-size="8.20" text-anchor="end" font-weight="bold">0.0</text>
<text x="30.80" y="704.40" font-size="8.20" text-anchor="end" font-weight="bold">-0.5</text>
<text x="30.80" y="758.50" font-size="8.20" text-anchor="end" font-weight="bold">-1.0</text>
<text x="38.50" y="555.30" font-size="9.90" font-weight="bold">(e) E<tspan font-size="6.14" dy="2.97">i</tspan><tspan dy="-2.97">=50.0 eV; (e</tspan><tspan font-size="6.14" dy="-3.76">-</tspan><tspan dy="3.76">, Hg)</tspan></text>
<path d="M53.60,713.90H75.30" stroke="#ff0000" stroke-width="2.2"/>
<text x="76.80" y="717.14" font-size="9.00" text-anchor="start" font-weight="bold">Present Work</text>
<circle cx="64.30" cy="725.30" r="5.20" fill="#000"/>
<text x="76.80" y="728.95" font-size="8.75" text-anchor="start" font-weight="bold">Berger &amp; Kessler/1986[19]</text>
<path d="M54.00,736.50H59.00M63.60,736.50H68.70" stroke="#000" stroke-width="1.4"/>
<text x="76.80" y="739.86" font-size="8.78" text-anchor="start" font-weight="bold">McEachran &amp; Stauffer/1987[27]</text>
<path d="M329.40,648.50 C331.82,648.57 339.82,649.00 343.90,648.90 C347.98,648.80 350.57,648.57 353.90,647.90 C357.23,647.23 360.58,646.07 363.90,644.90 C367.22,643.73 370.48,642.40 373.80,640.90 C377.12,639.40 380.47,637.47 383.80,635.90 C387.13,634.33 390.48,632.63 393.80,631.50 C397.12,630.37 401.05,629.37 403.70,629.10 C406.35,628.83 408.23,629.45 409.70,629.90 C411.17,630.35 411.63,630.98 412.50,631.80 C413.37,632.62 414.10,633.60 414.90,634.80 C415.70,636.00 416.53,637.45 417.30,639.00 C418.07,640.55 418.72,642.18 419.50,644.10 C420.28,646.02 421.22,648.37 422.00,650.50 C422.78,652.63 423.45,654.77 424.20,656.90 C424.95,659.03 425.73,661.17 426.50,663.30 C427.27,665.43 428.05,667.70 428.80,669.70 C429.55,671.70 430.22,673.57 431.00,675.30 C431.78,677.03 432.58,678.82 433.50,680.10 C434.42,681.38 435.53,682.38 436.50,683.00 C437.47,683.62 438.38,683.75 439.30,683.80 C440.22,683.85 441.03,683.62 442.00,683.30 C442.97,682.98 443.50,682.77 445.10,681.90 C446.70,681.03 449.13,679.78 451.60,678.10 C454.07,676.42 457.13,673.80 459.90,671.80 C462.67,669.80 465.15,667.97 468.20,666.10 C471.25,664.23 474.88,662.27 478.20,660.60 C481.52,658.93 484.78,657.62 488.10,656.10 C491.42,654.58 495.28,652.80 498.10,651.50 C500.92,650.20 502.97,649.47 505.00,648.30 C507.03,647.13 508.63,646.02 510.30,644.50 C511.97,642.98 513.67,641.08 515.00,639.20 C516.33,637.32 517.30,635.53 518.30,633.20 C519.30,630.87 520.12,628.07 521.00,625.20 C521.88,622.33 522.77,618.28 523.60,616.00 C524.43,613.72 525.28,611.73 526.00,611.50 C526.72,611.27 527.30,612.08 527.90,614.60 C528.50,617.12 528.98,622.38 529.60,626.60 C530.22,630.82 530.93,636.13 531.60,639.90 C532.27,643.67 532.83,646.98 533.60,649.20 C534.37,651.42 534.98,652.27 536.20,653.20 C537.42,654.13 539.02,654.63 540.90,654.80 C542.78,654.97 544.62,654.63 547.50,654.20 C550.38,653.77 554.65,652.82 558.20,652.20 C561.75,651.58 564.77,651.05 568.80,650.50 C572.83,649.95 580.13,649.17 582.40,648.90" stroke="#ff0000" stroke-width="2.20" fill="none" stroke-linejoin="round" stroke-linecap="butt"/>
<rect x="329.40" y="540.40" width="253.00" height="216.40" fill="none" stroke="#2a2a2a" stroke-width="1.30"/>
<path d="M329.40,756.80V752.50 M329.40,540.40V544.70 M350.48,756.80V754.40 M350.48,540.40V542.80 M371.57,756.80V752.50 M371.57,540.40V544.70 M392.65,756.80V754.40 M392.65,540.40V542.80 M413.73,756.80V752.50 M413.73,540.40V544.70 M434.82,756.80V754.40 M434.82,540.40V542.80 M455.90,756.80V752.50 M455.90,540.40V544.70 M476.98,756.80V754.40 M476.98,540.40V542.80 M498.07,756.80V752.50 M498.07,540.40V544.70 M519.15,756.80V754.40 M519.15,540.40V542.80 M540.23,756.80V752.50 M540.23,540.40V544.70 M561.32,756.80V754.40 M561.32,540.40V542.80 M582.40,756.80V752.50 M582.40,540.40V544.70 M329.40,756.80H333.70 M582.40,756.80H578.10 M329.40,729.75H331.80 M582.40,729.75H580.00 M329.40,702.70H333.70 M582.40,702.70H578.10 M329.40,675.65H331.80 M582.40,675.65H580.00 M329.40,648.60H333.70 M582.40,648.60H578.10 M329.40,621.55H331.80 M582.40,621.55H580.00 M329.40,594.50H333.70 M582.40,594.50H578.10 M329.40,567.45H331.80 M582.40,567.45H580.00 M329.40,540.40H333.70 M582.40,540.40H578.10" stroke="#2a2a2a" stroke-width="1.1" fill="none"/>
<text x="329.40" y="767.30" font-size="8.20" text-anchor="middle" font-weight="bold">0</text>
<text x="371.57" y="767.30" font-size="8.20" text-anchor="middle" font-weight="bold">30</text>
<text x="413.73" y="767.30" font-size="8.20" text-anchor="middle" font-weight="bold">60</text>
<text x="455.90" y="767.30" font-size="8.20" text-anchor="middle" font-weight="bold">90</text>
<text x="498.07" y="767.30" font-size="8.20" text-anchor="middle" font-weight="bold">120</text>
<text x="540.23" y="767.30" font-size="8.20" text-anchor="middle" font-weight="bold">150</text>
<text x="582.40" y="767.30" font-size="8.20" text-anchor="middle" font-weight="bold">180</text>
<text x="325.20" y="542.10" font-size="8.20" text-anchor="end" font-weight="bold">1.0</text>
<text x="325.20" y="596.20" font-size="8.20" text-anchor="end" font-weight="bold">0.5</text>
<text x="325.20" y="650.30" font-size="8.20" text-anchor="end" font-weight="bold">0.0</text>
<text x="325.20" y="704.40" font-size="8.20" text-anchor="end" font-weight="bold">-0.5</text>
<text x="325.20" y="758.50" font-size="8.20" text-anchor="end" font-weight="bold">-1.0</text>
<text x="333.00" y="555.30" font-size="10.10" font-weight="bold">(f) E<tspan font-size="6.26" dy="3.03">i</tspan><tspan dy="-3.03">=75.0 eV; (e</tspan><tspan font-size="6.26" dy="-3.84">-</tspan><tspan dy="3.84">, Hg)</tspan></text>
<path d="M341.50,743.00H366.00" stroke="#ff0000" stroke-width="2.2"/>
<text x="367.80" y="746.55" font-size="9.85" text-anchor="start" font-weight="bold">Present Work</text>
<text transform="translate(8.20,119.80) rotate(-90)" x="0" y="0" font-size="10.90" font-weight="bold" text-anchor="middle">Spin Polarization S(<tspan font-family="Liberation Serif" font-weight="normal">&#952;</tspan>)</text>
<text transform="translate(8.20,387.40) rotate(-90)" x="0" y="0" font-size="10.90" font-weight="bold" text-anchor="middle">Spin Polarization S(<tspan font-family="Liberation Serif" font-weight="normal">&#952;</tspan>)</text>
<text transform="translate(12.20,643.60) rotate(-90)" x="0" y="0" font-size="10.90" font-weight="bold" text-anchor="middle">Spin Polarization S(<tspan font-family="Liberation Serif" font-weight="normal">&#952;</tspan>)</text>
<text transform="translate(592.20,112.20) rotate(-90)" x="0" y="0" font-size="10.90" font-weight="bold" text-anchor="middle">Spin Polarization S(<tspan font-family="Liberation Serif" font-weight="normal">&#952;</tspan>)</text>
<text transform="translate(591.20,381.00) rotate(-90)" x="0" y="0" font-size="10.90" font-weight="bold" text-anchor="middle">Spin Polarization S(<tspan font-family="Liberation Serif" font-weight="normal">&#952;</tspan>)</text>
<text transform="translate(599.00,648.90) rotate(-90)" x="0" y="0" font-size="10.90" font-weight="bold" text-anchor="middle">Spin Polarization S(<tspan font-family="Liberation Serif" font-weight="normal">&#952;</tspan>)</text>
<text x="161.90" y="788.30" font-size="10.50" font-weight="bold" text-anchor="middle">Scattering Angle (<tspan font-family="Liberation Serif" font-weight="normal">&#952;</tspan><tspan font-size="6.30" dy="-4.73" font-weight="normal">0</tspan><tspan dy="4.73">)</tspan></text>
<text x="456.30" y="787.60" font-size="10.50" font-weight="bold" text-anchor="middle">Scattering Angle (<tspan font-family="Liberation Serif" font-weight="normal">&#952;</tspan><tspan font-size="6.30" dy="-4.73" font-weight="normal">0</tspan><tspan dy="4.73">)</tspan></text>
</svg></body></html>
